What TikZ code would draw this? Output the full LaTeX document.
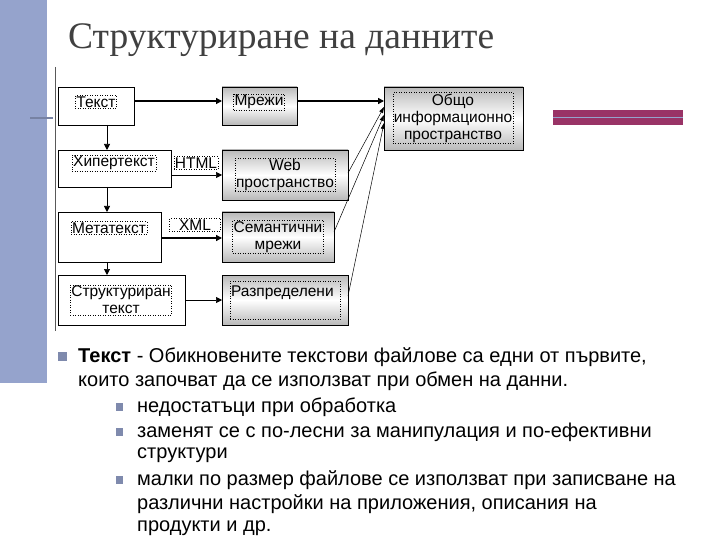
\documentclass[tikz,border=0pt]{standalone}
\usepackage{fontspec}
\setmainfont{Liberation Sans}
\newfontfamily\titlefont{Liberation Serif}
\usetikzlibrary{arrows.meta}
\definecolor{barblue}{HTML}{95A3CC}
\definecolor{magbar}{HTML}{993366}
\begin{document}
\begin{tikzpicture}[x=1pt,y=-1pt,
  wbox/.style={draw=black,fill=white,line width=0.8pt},
  gbox/.style={draw=black,line width=0.8pt,top color=gray!55,bottom color=gray!55,middle color=white},
  lbl/.style={draw=black,dotted,line width=0.5pt,inner sep=1pt,font=\fontsize{15.5}{17}\selectfont,align=center},
  arr/.style={-{Triangle[length=6pt,width=6pt]},line width=0.7pt},
  tarr/.style={-{Triangle[length=6pt,width=6pt]},line width=1.3pt},
  thin/.style={-{Triangle[length=6pt,width=4pt]},line width=0.5pt},
  body/.style={anchor=west,font=\fontsize{20}{22}\selectfont,inner sep=0pt}]
\useasboundingbox (0,0) rectangle (720,540);
\fill[white] (0,0) rectangle (720,540);
\fill[barblue] (0,0) rectangle (47,383);
\draw[barblue!80!black,line width=1.5pt] (30,118) -- (53,118);
\draw[gray!70!black,line width=0.8pt] (55,67) -- (55,331);
\fill[magbar] (553,110) rectangle (683,125);
\draw[barblue,line width=1pt] (553,117.5) -- (683,117.5);
\node[anchor=west,font=\titlefont\fontsize{37.5}{40}\selectfont,text=black!75,inner sep=0pt] (title) at (68,40) {Структуриране на данните};
% boxes
\path[wbox] (58,87) rectangle (134,125);
\node[lbl] (t) at (96,102) {Текст};
\path[gbox] (222,87) rectangle (297,125);
\node[lbl] (m) at (259,102) {Мрежи};
\path[wbox] (58,150) rectangle (171,187);
\node[lbl] (h) at (114,163) {Хипертекст};
\path[gbox] (222,150) rectangle (348,200);
\node[lbl] (w) at (285,175) {Web\\пространство};
\path[wbox] (58,212) rectangle (161,262);
\node[lbl] (mt) at (109,228) {Метатекст};
\path[gbox] (222,212) rectangle (334,262);
\node[lbl] (s) at (278,237) {Семантични\\мрежи};
\path[wbox] (58,275) rectangle (185,325);
\node[lbl] (st) at (121,300) {Структуриран\\текст};
\path[gbox] (222,275) rectangle (348,325);
\node[lbl,minimum height=38pt,text width=108pt,align=left] (r) at (285,300) {Разпределени\\\ };
\path[gbox] (384,87) rectangle (523,150);
\node[lbl] (o) at (453,118) {Общо\\информационно\\пространство};
\node[lbl] (html) at (196,163) {HTML};
\node[lbl] (xml) at (195,225) {\ \ XML\ \ };
% arrows
\coordinate (a1) at (134,101); \coordinate (a2) at (222,101);
\draw[tarr] (a1) -- (a2);
\coordinate (b1) at (297,101); \coordinate (b2) at (384,101);
\draw[tarr] (b1) -- (b2);
\coordinate (c1) at (171,175); \coordinate (c2) at (222,175);
\draw[arr] (c1) -- (c2);
\coordinate (d1) at (161,238); \coordinate (d2) at (222,238);
\draw[tarr] (d1) -- (d2);
\coordinate (e1) at (185,300); \coordinate (e2) at (222,300);
\draw[arr] (e1) -- (e2);
\foreach \ya/\yb/\n in {125/150/1,187/212/2,262/275/3}{
  \coordinate (v\n a) at (107,\ya); \coordinate (v\n b) at (107,\yb);
  \draw[arr] (v\n a) -- (v\n b);}
\coordinate (f1) at (348,173); \coordinate (f2) at (384,107);
\draw[thin] (f1) -- (f2);
\coordinate (g1) at (334,232); \coordinate (g2) at (384,115);
\draw[thin] (g1) -- (g2);
\coordinate (h1) at (348,296); \coordinate (h2) at (384,123);
\draw[thin] (h1) -- (h2);
% bullet text
\fill[barblue!85!black] (58,352) rectangle (67,361);
\node[body] (p1) at (78,357) {\textbf{Текст} - Обикновените текстови файлове са едни от първите,};
\node[body] (p2) at (78,381) {които започват да се използват при обмен на данни.};
\foreach \y/\n in {407/1,432/2,480/3}{\fill[barblue!85!black] (116,\y-4) rectangle (123,\y+4);}
\node[body] (q1) at (137,407) {недостатъци при обработка};
\node[body] (q2) at (137,432) {заменят се с по-лесни за манипулация и по-ефективни};
\node[body] (q3) at (137,455) {структури};
\node[body] (q4) at (137,480) {малки по размер файлове се използват при записване на};
\node[body] (q5) at (137,504) {различни настройки на приложения, описания на};
\node[body] (q6) at (137,528) {продукти и др.};
\end{tikzpicture}
\end{document}
